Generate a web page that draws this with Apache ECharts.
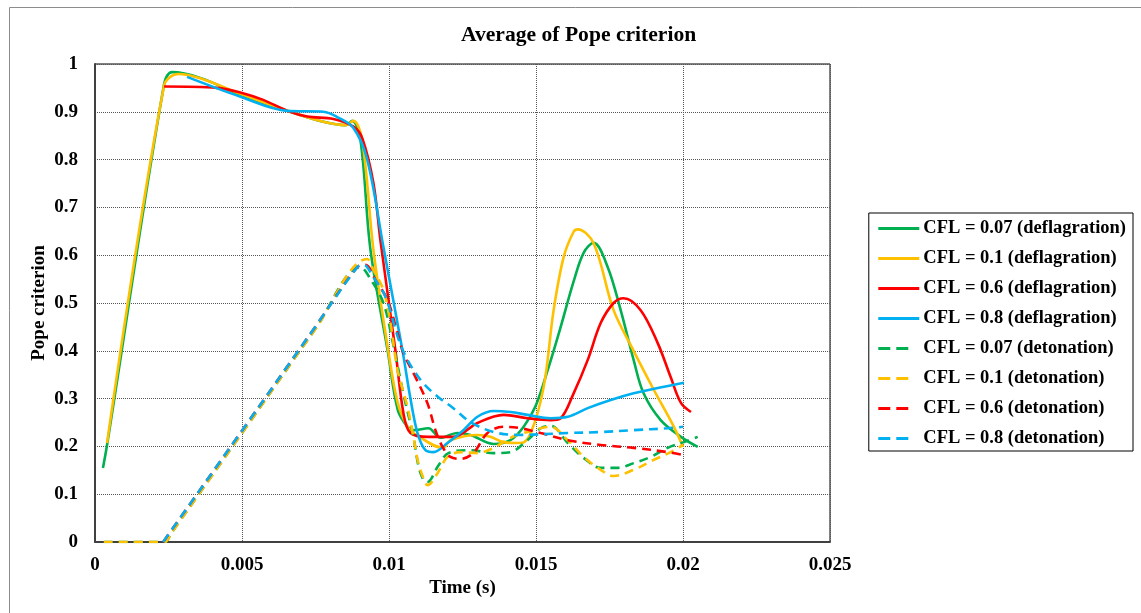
<!DOCTYPE html>
<html>
<head>
<meta charset="utf-8">
<title>Average of Pope criterion</title>
<script src="https://cdn.jsdelivr.net/npm/echarts@6/dist/echarts.min.js"></script>
<style>
  html, body { margin: 0; padding: 0; background: #fff; }
  #chart { width: 1141px; height: 613px; }
</style>
</head>
<body>
<div id="chart"></div>
<script>
// Time (s) vs. average Pope criterion, [time, value] pairs
const deflag007 = [[0.00027,0.155],[0.00041,0.203],[0.00235,0.958],[0.00262,0.983],[0.00358,0.971],[0.00497,0.935],[0.00664,0.900],[0.00777,0.879],[0.00852,0.872],[0.00875,0.881],[0.00903,0.841],[0.00937,0.611],[0.00995,0.402],[0.01030,0.276],[0.01063,0.241],[0.01083,0.234],[0.01134,0.238],[0.01175,0.218],[0.01233,0.228],[0.01277,0.224],[0.01356,0.205],[0.01413,0.213],[0.01458,0.241],[0.01499,0.285],[0.01540,0.360],[0.01584,0.450],[0.01628,0.545],[0.01662,0.605],[0.01696,0.626],[0.01744,0.575],[0.01788,0.485],[0.01832,0.381],[0.01866,0.311],[0.01924,0.255],[0.01993,0.220],[0.02050,0.199]];
const deflag01 = [[0.00041,0.207],[0.00235,0.955],[0.00283,0.979],[0.00358,0.970],[0.00497,0.937],[0.00664,0.900],[0.00777,0.879],[0.00852,0.872],[0.00879,0.881],[0.00909,0.840],[0.00947,0.611],[0.00995,0.410],[0.01030,0.290],[0.01063,0.241],[0.01083,0.228],[0.01185,0.197],[0.01209,0.213],[0.01301,0.224],[0.01345,0.220],[0.01390,0.209],[0.01448,0.207],[0.01482,0.228],[0.01526,0.324],[0.01560,0.485],[0.01594,0.596],[0.01628,0.649],[0.01642,0.654],[0.01696,0.625],[0.01764,0.485],[0.01832,0.400],[0.01901,0.318],[0.01969,0.241],[0.02000,0.199]];
const deflag06 = [[0.00235,0.953],[0.00416,0.950],[0.00497,0.940],[0.00572,0.925],[0.00654,0.902],[0.00722,0.890],[0.00811,0.885],[0.00879,0.869],[0.00909,0.845],[0.00947,0.751],[0.00971,0.630],[0.01022,0.400],[0.01049,0.270],[0.01073,0.228],[0.01134,0.220],[0.01219,0.220],[0.01301,0.249],[0.01390,0.266],[0.01471,0.259],[0.01550,0.255],[0.01584,0.259],[0.01628,0.311],[0.01676,0.381],[0.01720,0.458],[0.01764,0.500],[0.01798,0.510],[0.01856,0.485],[0.01914,0.416],[0.01958,0.345],[0.01993,0.291],[0.02027,0.272]];
const deflag08 = [[0.00313,0.973],[0.00497,0.931],[0.00654,0.902],[0.00777,0.900],[0.00824,0.889],[0.00879,0.866],[0.00926,0.800],[0.00981,0.617],[0.01046,0.400],[0.01073,0.300],[0.01097,0.228],[0.01124,0.192],[0.01151,0.188],[0.01199,0.207],[0.01253,0.234],[0.01301,0.262],[0.01356,0.274],[0.01413,0.272],[0.01471,0.266],[0.01550,0.259],[0.01608,0.262],[0.01676,0.280],[0.01754,0.297],[0.01832,0.311],[0.01914,0.322],[0.02003,0.333]];
const deton007 = [[0.00030,0],[0.00220,0],[0.00238,0],[0.00260,0.019],[0.00500,0.228],[0.00750,0.446],[0.00903,0.575],[0.00937,0.550],[0.00981,0.500],[0.01012,0.420],[0.01049,0.310],[0.01083,0.220],[0.01100,0.160],[0.01117,0.130],[0.01130,0.125],[0.01168,0.160],[0.01202,0.186],[0.01277,0.192],[0.01356,0.186],[0.01413,0.188],[0.01471,0.213],[0.01516,0.238],[0.01550,0.243],[0.01608,0.207],[0.01662,0.176],[0.01720,0.155],[0.01778,0.155],[0.01832,0.165],[0.01890,0.178],[0.01948,0.197],[0.02003,0.209],[0.02050,0.220]];
const deton01 = [[0.00030,0],[0.00220,0],[0.00238,0],[0.00260,0.019],[0.00500,0.228],[0.00750,0.446],[0.00926,0.592],[0.00947,0.569],[0.00981,0.527],[0.01005,0.458],[0.01029,0.360],[0.01063,0.282],[0.01083,0.220],[0.01100,0.165],[0.01124,0.123],[0.01131,0.119],[0.01165,0.144],[0.01199,0.178],[0.01243,0.188],[0.01301,0.186],[0.01356,0.197],[0.01413,0.218],[0.01458,0.228],[0.01550,0.241],[0.01608,0.213],[0.01662,0.178],[0.01720,0.151],[0.01764,0.138],[0.01832,0.151],[0.01901,0.172],[0.01958,0.188],[0.02000,0.203]];
const deton06 = [[0.00232,0],[0.00250,0.016],[0.00500,0.233],[0.00750,0.451],[0.00892,0.575],[0.00920,0.580],[0.00954,0.548],[0.00995,0.506],[0.01029,0.437],[0.01049,0.395],[0.01090,0.345],[0.01131,0.290],[0.01158,0.234],[0.01182,0.199],[0.01209,0.178],[0.01243,0.174],[0.01287,0.186],[0.01335,0.228],[0.01390,0.241],[0.01448,0.238],[0.01516,0.228],[0.01608,0.213],[0.01720,0.203],[0.01832,0.197],[0.01948,0.188],[0.02003,0.182]];
const deton08 = [[0.00232,0],[0.00250,0.016],[0.00500,0.233],[0.00750,0.451],[0.00892,0.575],[0.00913,0.580],[0.00947,0.554],[0.00988,0.513],[0.01032,0.425],[0.01063,0.381],[0.01114,0.334],[0.01168,0.303],[0.01219,0.280],[0.01277,0.251],[0.01356,0.230],[0.01437,0.224],[0.01608,0.228],[0.01720,0.230],[0.01832,0.234],[0.01948,0.238],[0.02000,0.241]];

const seriesNames = [
  'CFL = 0.07 (deflagration)', 'CFL = 0.1 (deflagration)', 'CFL = 0.6 (deflagration)', 'CFL = 0.8 (deflagration)',
  'CFL = 0.07 (detonation)', 'CFL = 0.1 (detonation)', 'CFL = 0.6 (detonation)', 'CFL = 0.8 (detonation)'
];
const seriesData = [deflag007, deflag01, deflag06, deflag08, deton007, deton01, deton06, deton08];
const seriesColors = ['#00B050', '#FFC000', '#FF0000', '#00B0F0', '#00B050', '#FFC000', '#FF0000', '#00B0F0'];
const xTicks = [0, 0.005, 0.01, 0.015, 0.02, 0.025];

const FONT = '"Liberation Serif", "Times New Roman", serif';

const chart = echarts.init(document.getElementById('chart'), null, { renderer: 'canvas' });

const series = seriesData.map((d, i) => {
  const dashed = i >= 4;
  return {
    name: seriesNames[i],
    type: 'line',
    data: d,
    smooth: 0.35,
    symbol: 'none',
    showSymbol: false,
    animation: false,
    z: 2 + i,
    lineStyle: { color: seriesColors[i], width: 2.6, type: dashed ? [9, 6] : 'solid' },
    itemStyle: { color: seriesColors[i] }
  };
});

chart.setOption({
  backgroundColor: '#fff',
  animation: false,
  graphic: [{
    type: 'rect',
    shape: { x: 9.5, y: 7.5, width: 1200, height: 700 },
    style: { fill: 'none', stroke: '#8c8c8c', lineWidth: 1 },
    silent: true
  }],
  title: {
    text: 'Average of Pope criterion',
    left: 456,
    top: 19,
    textStyle: { fontFamily: FONT, fontWeight: 'bold', fontSize: 21.6, color: '#000' }
  },
  legend: {
    orient: 'vertical',
    right: 8,
    top: 213,
    itemWidth: 41,
    itemHeight: 3,
    itemGap: 11,
    padding: [6, 7, 3, 8],
    borderColor: '#000',
    borderWidth: 1,
    textStyle: { fontFamily: FONT, fontWeight: 'bold', fontSize: 18.5, color: '#000', lineHeight: 18, padding: [0, 0, 0, -1] },
    data: seriesNames.map((n, i) => ({
      name: n,
      lineStyle: i >= 4 ? { type: [12, 6, 12, 100], width: 3 } : { width: 3 }
    }))
  },
  grid: {
    left: 95, right: 311, top: 64, bottom: 71,
    show: true, borderColor: '#000', borderWidth: 1,
    containLabel: false
  },
  xAxis: {
    type: 'value',
    min: 0, max: 0.025, interval: 0.005,
    name: 'Time (s)',
    nameLocation: 'middle',
    nameGap: 37,
    nameMoveOverlap: false,
    nameTextStyle: { fontFamily: FONT, fontWeight: 'bold', fontSize: 19, color: '#000' },
    axisLine: { show: true, onZero: false, lineStyle: { color: '#404040', width: 2 } },
    axisTick: { show: false },
    axisLabel: {
      margin: 14,
      fontFamily: FONT, fontWeight: 'bold', fontSize: 19, color: '#000',
      formatter: v => {
        const t = xTicks.find(k => Math.abs(k - v) < 1e-9);
        return String(t !== undefined ? t : v);
      }
    },
    splitLine: { show: true, lineStyle: { color: '#555', type: 'dotted', width: 1 } }
  },
  yAxis: {
    type: 'value',
    min: 0, max: 1, interval: 0.1,
    name: 'Pope criterion',
    nameLocation: 'middle',
    nameGap: 46,
    nameMoveOverlap: false,
    nameRotate: 90,
    nameTextStyle: { fontFamily: FONT, fontWeight: 'bold', fontSize: 19, color: '#000' },
    axisLine: { show: true, onZero: false, lineStyle: { color: '#404040', width: 2 } },
    axisTick: { show: false },
    axisLabel: {
      margin: 17,
      fontFamily: FONT, fontWeight: 'bold', fontSize: 19, color: '#000',
      formatter: v => String(Math.round(v * 10) / 10)
    },
    splitLine: { show: true, lineStyle: { color: '#555', type: 'dotted', width: 1 } }
  },
  series: series
});
</script>
</body>
</html>
